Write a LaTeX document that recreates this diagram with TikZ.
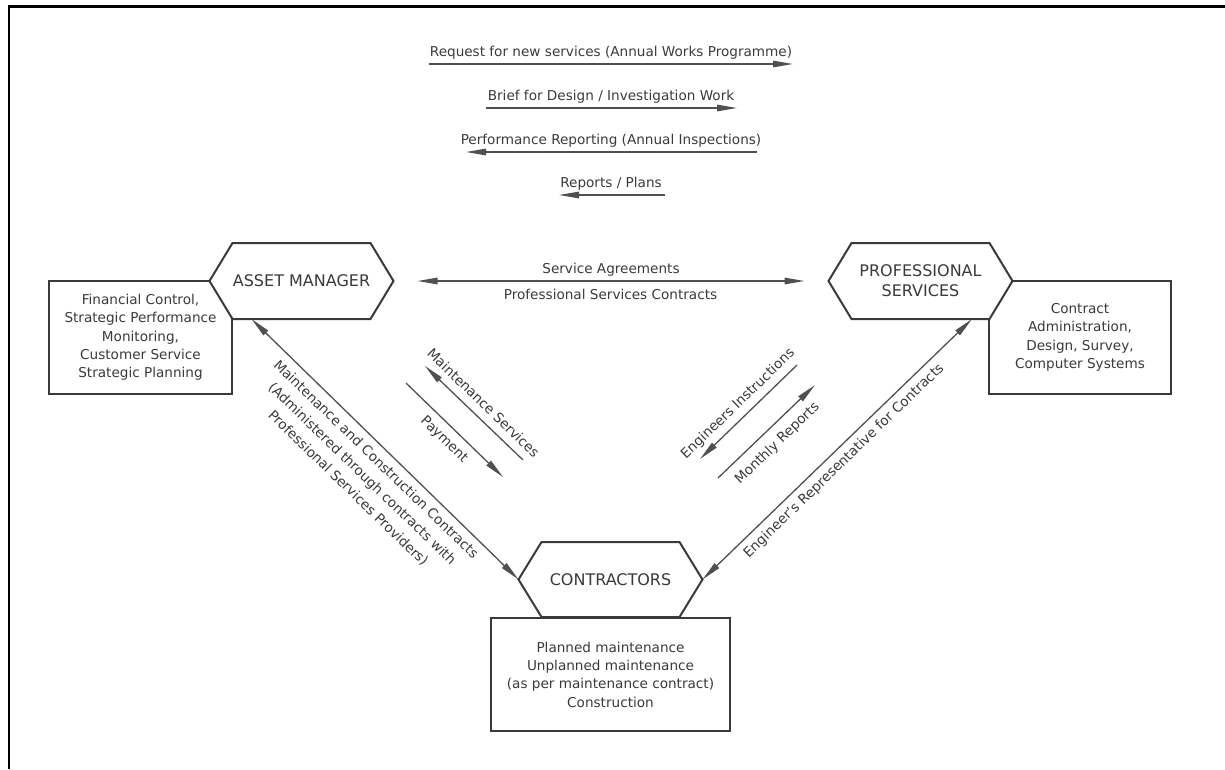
\documentclass[tikz,border=0pt]{standalone}
\usepackage{fontspec}
\setmainfont{DejaVu Sans}
\usetikzlibrary{arrows.meta,calc}
\definecolor{ink}{HTML}{3A3A3A}
\definecolor{linec}{HTML}{505050}
\pgfdeclarelayer{boxes}
\pgfdeclarelayer{hexes}
\pgfsetlayers{boxes,hexes,main}
\begin{document}
\begin{tikzpicture}[x=1pt,y=-1pt,
  txt/.style={text=ink,font=\fontsize{13.6}{18.3}\selectfont,inner sep=0pt,outer sep=0pt},
  hexlab/.style={text=ink,font=\fontsize{16}{20}\selectfont,align=center,minimum width=138pt,minimum height=76pt,inner sep=0pt,outer sep=0pt},
  boxtext/.style={text=ink,font=\fontsize{13.6}{18.3}\selectfont,align=center,inner sep=0pt,outer sep=0pt},
  boxline/.style={draw=ink,line width=2pt,fill=white},
  hexline/.style={draw=ink,line width=2pt,fill=white,line join=miter},
  flow/.style={draw=linec,line width=1.3pt,-{Triangle[length=20pt,width=6.5pt]}},
  flowboth/.style={draw=linec,line width=1.3pt,{Triangle[length=20pt,width=6.5pt]}-{Triangle[length=20pt,width=6.5pt]}}]

\useasboundingbox (0,0) rectangle (1225,769);
\draw[line width=2.5pt,black] (9,769) -- (9,6.5) -- (1225,6.5);

% ---------- boxes ----------
\node[boxtext,minimum width=183pt,minimum height=113pt] (amb) at (140.5,337.5)
  {Financial Control,\\Strategic Performance\\Monitoring,\\Customer Service\\Strategic Planning};
\node[boxtext,minimum width=182pt,minimum height=113pt] (psb) at (1080,337.5)
  {Contract\\Administration,\\Design, Survey,\\Computer Systems};
\node[boxtext,minimum width=239pt,minimum height=113pt] (ctb) at (610.5,674.5)
  {Planned maintenance\\Unplanned maintenance\\(as per maintenance contract)\\Construction};
\begin{pgfonlayer}{boxes}
  \draw[boxline] (amb.north west) rectangle (amb.south east);
  \draw[boxline] (psb.north west) rectangle (psb.south east);
  \draw[boxline] (ctb.north west) rectangle (ctb.south east);
\end{pgfonlayer}

% ---------- hexagons ----------
\node[hexlab] (am) at (301.5,281) {ASSET MANAGER};
\node[hexlab] (ps) at (920.5,281) {PROFESSIONAL\\SERVICES};
\node[hexlab,minimum height=75pt] (ct) at (610.5,579.5) {CONTRACTORS};
\coordinate (amW) at ($(am.west)+(-23,0)$);
\coordinate (amE) at ($(am.east)+(23,0)$);
\coordinate (psW) at ($(ps.west)+(-23,0)$);
\coordinate (psE) at ($(ps.east)+(23,0)$);
\coordinate (ctW) at ($(ct.west)+(-23,0)$);
\coordinate (ctE) at ($(ct.east)+(23,0)$);
\begin{pgfonlayer}{hexes}
  \draw[hexline] (am.north west) -- (am.north east) -- (amE) -- (am.south east) -- (am.south west) -- (amW) -- cycle;
  \draw[hexline] (ps.north west) -- (ps.north east) -- (psE) -- (ps.south east) -- (ps.south west) -- (psW) -- cycle;
  \draw[hexline] (ct.north west) -- (ct.north east) -- (ctE) -- (ct.south east) -- (ct.south west) -- (ctW) -- cycle;
\end{pgfonlayer}

% ---------- top flows ----------
\node[txt,anchor=base] (t1) at (611,56) {Request for new services (Annual Works Programme)};
\coordinate (t1a) at (429,64); \coordinate (t1b) at (793,64);
\draw[flow] (t1a) -- (t1b);
\node[txt,anchor=base] (t2) at (611,100) {Brief for Design / Investigation Work};
\coordinate (t2a) at (486,108); \coordinate (t2b) at (737,108);
\draw[flow] (t2a) -- (t2b);
\node[txt,anchor=base] (t3) at (611,144) {Performance Reporting (Annual Inspections)};
\coordinate (t3a) at (757,152); \coordinate (t3b) at (466,152);
\draw[flow] (t3a) -- (t3b);
\node[txt,anchor=base] (t4) at (611,187) {Reports / Plans};
\coordinate (t4a) at (665,195); \coordinate (t4b) at (559,195);
\draw[flow] (t4a) -- (t4b);

% ---------- service agreements ----------
\coordinate (saL) at ($(amE)+(24,0)$);
\coordinate (saR) at ($(psW)+(-24,0)$);
\draw[flowboth] (saL) -- (saR);
\node[txt,anchor=base] (sa) at (611,273) {Service Agreements};
\node[txt,anchor=base] (psc) at (610.5,299) {Professional Services Contracts};

% ---------- long diagonals ----------
\coordinate (amS) at ($(am.south west)+(19,0)$);
\coordinate (psS) at ($(ps.south east)+(-17.5,0)$);
\draw[flowboth] (amS) -- (ctW);
\draw[flowboth] (psS) -- (ctE);
\node[txt,rotate=-44,align=center,font=\fontsize{13.6}{20}\selectfont] (mcc) at (362,474)
  {Maintenance and Construction Contracts\\(Administered through contracts with\\Professional Services Providers)};
\node[txt,rotate=44] (erc) at (844,461) {Engineer's Representative for Contracts};

% ---------- short diagonals ----------
\coordinate (ms1) at (523,460); \coordinate (ms2) at (425,366);
\draw[flow] (ms1) -- (ms2);
\coordinate (pay1) at (406,383); \coordinate (pay2) at (503,477);
\draw[flow] (pay1) -- (pay2);
\coordinate (ei1) at (797,365); \coordinate (ei2) at (700,459);
\draw[flow] (ei1) -- (ei2);
\coordinate (mr1) at (718,478); \coordinate (mr2) at (815,385);
\draw[flow] (mr1) -- (mr2);
\node[txt,rotate=-44] (msl) at (483.5,403) {Maintenance Services};
\node[txt,rotate=-44] (payl) at (444,440) {Payment};
\node[txt,rotate=44] (eil) at (738,404) {Engineers Instructions};
\node[txt,rotate=44] (mrl) at (777.5,443.5) {Monthly Reports};
\end{tikzpicture}
\end{document}
